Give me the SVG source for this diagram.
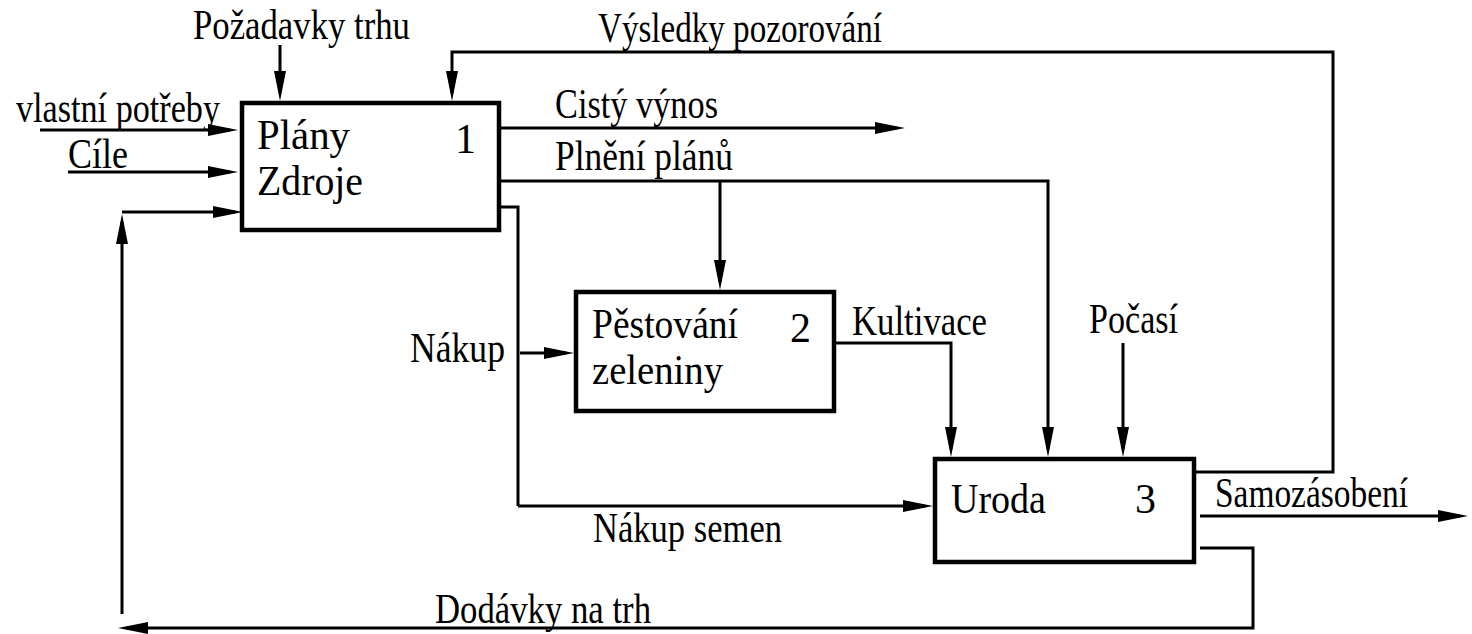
<svg xmlns="http://www.w3.org/2000/svg" width="1472" height="634" viewBox="0 0 1472 634">
<style>
.t{font-family:"Liberation Serif","Times New Roman",serif;font-size:42px;fill:#000}
.b{fill:#fff;stroke:#000;stroke-width:4.5}
.c{fill:none;stroke:#000;stroke-width:3;marker-end:url(#ah)}
.n{fill:none;stroke:#000;stroke-width:3}
</style>
<defs>
<marker id="ah" viewBox="0 0 30 12" refX="22" refY="6" markerWidth="30" markerHeight="12" orient="auto" markerUnits="userSpaceOnUse">
<path d="M0,0 L30,6 L0,12 z" fill="#000"/>
</marker>
</defs>
<rect width="1472" height="634" fill="#fff"/>
<g id="connectors">
<path class="c" d="M280,45 V93"/>
<path class="c" d="M1196,472 H1333 V52 H452 V93"/>
<path class="c" d="M40,130 H230"/>
<path class="c" d="M68,172 H230"/>
<path class="c" d="M122,614 V222"/>
<path class="c" d="M122,212 H235"/>
<path class="c" d="M1200,548 H1253 V628 H126"/>
<path class="c" d="M501,128 H897"/>
<path class="n" d="M501,181 H1048 V300"/>
<path class="c" d="M1048,300 V449"/>
<path class="c" d="M720,181 V282"/>
<path class="n" d="M501,207 H518 V506"/>
<path class="c" d="M518,506 H925"/>
<path class="c" d="M520,353 H566"/>
<path class="c" d="M836,343 H951 V449"/>
<path class="c" d="M1123,343 V449"/>
<path class="c" d="M1200,516 H1460"/>
</g>
<g id="node1">
<rect class="b" x="242" y="103" width="257" height="127"/>
<text class="t" x="257" y="149" font-size="40" textLength="93" lengthAdjust="spacingAndGlyphs">Plány</text>
<text class="t" x="257" y="195" font-size="40" textLength="106" lengthAdjust="spacingAndGlyphs">Zdroje</text>
<text class="t" x="455" y="153" font-size="44">1</text>
</g>
<g id="node2">
<rect class="b" x="576" y="292" width="258" height="119"/>
<text class="t" x="592" y="338" font-size="40" textLength="146" lengthAdjust="spacingAndGlyphs">Pěstování</text>
<text class="t" x="592" y="384" font-size="40" textLength="131" lengthAdjust="spacingAndGlyphs">zeleniny</text>
<text class="t" x="790" y="342" font-size="44">2</text>
</g>
<g id="node3">
<rect class="b" x="935" y="459" width="259" height="103"/>
<text class="t" x="951" y="513" font-size="45" textLength="95" lengthAdjust="spacingAndGlyphs">Uroda</text>
<text class="t" x="1135" y="513" font-size="44">3</text>
</g>
<g id="labels">
<text class="t" x="193" y="39" textLength="217" lengthAdjust="spacingAndGlyphs">Požadavky trhu</text>
<text class="t" x="598" y="42" textLength="284" lengthAdjust="spacingAndGlyphs">Výsledky pozorování</text>
<text class="t" x="16" y="122" font-size="36" textLength="204" lengthAdjust="spacingAndGlyphs">vlastní potřeby</text>
<text class="t" x="68" y="168" font-size="33" textLength="60" lengthAdjust="spacingAndGlyphs">Cíle</text>
<text class="t" x="555" y="118" textLength="163" lengthAdjust="spacingAndGlyphs">Cistý výnos</text>
<text class="t" x="555" y="170" textLength="178" lengthAdjust="spacingAndGlyphs">Plnění plánů</text>
<text class="t" x="410" y="362" font-size="44" textLength="95" lengthAdjust="spacingAndGlyphs">Nákup</text>
<text class="t" x="852" y="335" font-size="44" textLength="135" lengthAdjust="spacingAndGlyphs">Kultivace</text>
<text class="t" x="1089" y="333" textLength="89" lengthAdjust="spacingAndGlyphs">Počasí</text>
<text class="t" x="1215" y="507" textLength="193" lengthAdjust="spacingAndGlyphs">Samozásobení</text>
<text class="t" x="593" y="542" font-size="44" textLength="189" lengthAdjust="spacingAndGlyphs">Nákup semen</text>
<text class="t" x="435" y="623" textLength="216" lengthAdjust="spacingAndGlyphs">Dodávky na trh</text>
</g>
</svg>
